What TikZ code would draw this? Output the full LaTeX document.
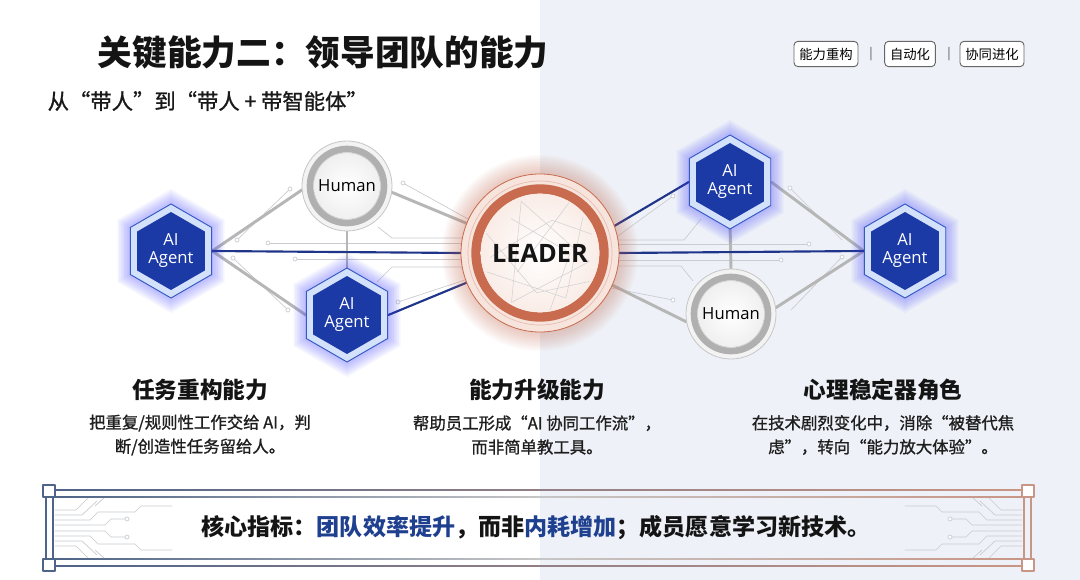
\documentclass[tikz,border=0pt]{standalone}
\usepackage{fontspec}
\usetikzlibrary{calc}
\newfontfamily\cjk{Noto Sans CJK SC}
\newfontfamily\cjkd[FakeBold=1.1]{Noto Sans CJK SC}
\newfontfamily\lat{Open Sans}
\definecolor{bgR}{HTML}{EEF2F8}
\definecolor{hexdark}{HTML}{1C3AA6}
\definecolor{hexlight}{HTML}{D3E1FA}
\definecolor{hexedge}{HTML}{3558C2}
\definecolor{bluel}{HTML}{1F358A}
\definecolor{greyl}{HTML}{B6B6B6}
\definecolor{trace}{HTML}{C9CBD0}
\definecolor{ringor}{HTML}{C86B4E}
\definecolor{ringpale}{HTML}{F7E4DC}
\definecolor{frameL}{HTML}{4E6488}
\definecolor{frameR}{HTML}{C99685}
\definecolor{kpi}{HTML}{1F3F8F}
\newcommand\hexvis[2]{%
  \foreach \r in {48,50,...,62}{\fill[blue!75, opacity=0.05, shift={(#1,#2)}] (90:\r) -- (150:\r) -- (210:\r) -- (270:\r) -- (330:\r) -- (30:\r) -- cycle;}
  \filldraw[fill=hexlight, draw=hexedge, line width=0.7pt, shift={(#1,#2)}] (90:47) -- (150:47) -- (210:47) -- (270:47) -- (330:47) -- (30:47) -- cycle;
  \fill[hexdark, shift={(#1,#2)}] (90:39) -- (150:39) -- (210:39) -- (270:39) -- (330:39) -- (30:39) -- cycle;
  \node[font=\lat\fontsize{12.5}{13.5}\selectfont, text=white, align=center] at (#1,#2) {AI\\Agent};
}
\newcommand\humanvis[2]{%
  \shade[inner color=white, outer color=gray!10, draw=gray!45, line width=0.6pt] (#1,#2) circle[radius=45];
  \draw[gray!62, line width=5pt] (#1,#2) circle[radius=37];
  \draw[gray!35, line width=0.8pt] (#1,#2) circle[radius=33.2];
  \shade[inner color=white, outer color=gray!12] (#1,#2) circle[radius=32.8];
  \node[font=\lat\fontsize{12.5}{14}\selectfont, text=black] at (#1,#2) {Human};
}
\begin{document}
\begin{tikzpicture}[x=0.75pt,y=-0.75pt, line join=round, line cap=round,
  trace/.style={draw=trace, line width=0.5pt},
  tdot/.style={draw=trace, fill=white, line width=0.5pt},
  greyc/.style={draw=greyl, line width=2.2pt},
  bluec/.style={draw=bluel, line width=1.6pt},
  anchornode/.style={circle, inner sep=0pt, minimum size=#1},
  tagbox/.style={draw=black!60, rounded corners=3pt, line width=0.7pt, fill=white, font=\cjk\fontsize{10}{12}\selectfont, inner xsep=4pt, inner ysep=3pt, minimum height=19pt},
  heading/.style={font=\cjk\bfseries\fontsize{17}{20}\selectfont, text=black!92},
  desc/.style={font=\cjkd\fontsize{12.3}{18}\selectfont, text=black!88, align=center}]
% background
\fill[white] (0,0) rectangle (1080,580);
\fill[bgR] (540,0) rectangle (1080,580);
\useasboundingbox (0,0) rectangle (1080,580);

% anchor nodes
\node[anchornode=61.5pt] (A1) at (171,251) {};
\node[anchornode=67.5pt] (H1) at (347,186) {};
\node[anchornode=61.5pt] (A2) at (347,315) {};
\node[anchornode=118.5pt] (L) at (540,253) {};
\node[anchornode=61.5pt] (A3) at (730,182) {};
\node[anchornode=67.5pt] (H2) at (731,314) {};
\node[anchornode=61.5pt] (A4) at (905,251) {};

% circuit traces (left)
\draw[trace] (237,240) -- (290,189);
\draw[trace] (233,258) -- (288,310);
\draw[trace] (268,243) -- (463,243);
\draw[trace] (295,259) -- (463,259);
\draw[trace] (378,227) -- (392,238) -- (463,238);
\draw[trace] (377,282) -- (392,267) -- (463,267);
\draw[trace] (403,183) -- (468,219);
\draw[trace] (398,302) -- (468,279);
\foreach \p in {(237,240),(290,189),(233,258),(288,310),(268,243),(295,259),(403,183),(398,302)} \filldraw[tdot] \p circle[radius=2];
% circuit traces (right)
\draw[trace] (615,238) -- (673,196);
\draw[trace] (790,188) -- (842,240);
\draw[trace] (615,244) -- (809,244);
\draw[trace] (615,260) -- (781,260);
\draw[trace] (842,257) -- (791,310);
\draw[trace] (701,219) -- (684,240) -- (615,240);
\draw[trace] (693,281) -- (681,266) -- (615,266);
\draw[trace] (673,300) -- (611,288);
\foreach \p in {(673,196),(790,188),(809,244),(781,260),(842,257),(673,300)} \filldraw[tdot] \p circle[radius=2];

% connectors
\draw[greyc] (A1.east) -- (H1.185);
\draw[greyc] (A1.east) -- (A2.west);
\draw[greyc] (H1.-8) -- (L.158);
\draw[greyc] (H1.south) -- (A2.north);
\draw[greyc] (L.-24) -- (H2.190);
\draw[greyc] (A3.south) -- (H2.north);
\draw[greyc] (A3.east) -- (A4.west);
\draw[greyc] (H2.8) -- (A4.west);
\draw[bluec] (A1.east) -- (L.west);
\draw[bluec] (A2.east) -- (L.202);
\draw[bluec] (L.20) -- (A3.west);
\draw[bluec] (L.east) -- (A4.west);

% humans
\humanvis{347}{186}
\humanvis{731}{314}

% leader
\foreach \r in {80,82,...,98}{\fill[ringor, opacity=0.04] (L.center) circle[radius=\r];}
\filldraw[fill=ringpale, draw=ringor, line width=0.6pt] (L.center) circle[radius=79];
\draw[ringor!45, line width=0.5pt] (L.center) circle[radius=72];
\draw[ringor, line width=7pt] (L.center) circle[radius=64];
\shade[inner color=white, outer color=ringpale!70] (L.center) circle[radius=59.3];
\begin{scope}
\clip (L.center) circle[radius=59];
\draw[gray!35, line width=0.4pt, shift={(540,253)}]
  (120:57) -- (10:50) -- (250:55) -- cycle
  (160:56) -- (60:52) -- (320:56)
  (200:57) -- (95:40) -- (30:57)
  (140:30) -- (-60:58) (230:45) -- (0:30) -- (80:58)
  (175:50) -- (290:35) -- (340:55);
\end{scope}
\node[font=\lat\bfseries\fontsize{19}{22}\selectfont, text=black!92] at (L.center) {LEADER};

% agents
\hexvis{171}{251}
\hexvis{347}{315}
\hexvis{730}{182}
\hexvis{905}{251}

% title
\node[anchor=west, font=\cjk\bfseries\fontsize{26}{30}\selectfont, text=black!92] (title) at (93,53) {关键能力二：领导团队的能力};
\node[anchor=west, font=\cjkd\fontsize{16}{20}\selectfont, text=black!90] (sub) at (43,101) {从“带人”到“带人 + 带智能体”};

% tags
\node[tagbox] (T1) at (826,54) {能力重构};
\node[font=\lat\fontsize{10}{12}\selectfont, text=black!60] (S1) at (871,54) {|};
\node[tagbox] (T2) at (910,54) {自动化};
\node[font=\lat\fontsize{10}{12}\selectfont, text=black!60] (S2) at (949,54) {|};
\node[tagbox] (T3) at (992,54) {协同进化};

% columns
\node[heading] (h1) at (200,390) {任务重构能力};
\node[heading] (h2) at (537,390) {能力升级能力};
\node[heading] (h3) at (883,390) {心理稳定器角色};
\node[desc] (d1) at (200,435) {把重复/规则性工作交给 AI，判\\断/创造性任务留给人。};
\node[desc] (d2) at (537,435) {帮助员工形成“AI 协同工作流”，\\而非简单教工具。};
\node[desc] (d3) at (883,435) {在技术剧烈变化中，消除“被替代焦\\虑”，转向“能力放大体验”。};

% bottom frame
\shade[left color=frameL, right color=frameR, middle color=frameL!45!frameR] (55,489.4) rectangle (1022,490.8);
\shade[left color=frameL, right color=frameR, middle color=gray!45] (55,496.2) rectangle (1022,497.4);
\shade[left color=frameL, right color=frameR, middle color=gray!45] (55,558.6) rectangle (1022,559.8);
\shade[left color=frameL, right color=frameR, middle color=frameL!45!frameR] (55,565.2) rectangle (1022,566.6);
\begin{scope}
\foreach \s/\c in {1/frameL, -1/frameR}{
\begin{scope}[shift={({\s==1 ? 0 : 1077},0)}, xscale=\s]
\draw[trace] (55,510) -- (76,510) -- (88,498);
\draw[trace] (55,515) -- (82,515) -- (97,501);
\draw[trace] (55,520) -- (90,520) -- (98,512) -- (135,512) -- (141,506) -- (172,506);
\draw[trace] (55,525) -- (105,525) -- (111,519) -- (125,519);
\draw[trace] (95,506) -- (104,498);
\draw[trace] (55,546) -- (76,546) -- (88,558);
\draw[trace] (55,541) -- (82,541) -- (97,555);
\draw[trace] (55,536) -- (90,536) -- (98,544) -- (135,544) -- (141,550) -- (172,550);
\draw[trace] (55,531) -- (105,531) -- (111,537) -- (125,537);
\draw[trace] (95,550) -- (104,558);
\filldraw[tdot] (127,519) circle[radius=2];
\filldraw[tdot] (127,537) circle[radius=2];
\draw[\c, line width=0.8pt] (46,497) -- (46,559) (53,497) -- (53,559);
\filldraw[draw=\c, fill=white, line width=0.8pt] (43,485) rectangle (55,497);
\filldraw[draw=\c, fill=white, line width=0.8pt] (43,559) rectangle (55,571);
\end{scope}}
\end{scope}
\node[font=\cjk\bfseries\fontsize{17.3}{22}\selectfont, text=black!92] (kpi) at (536,528) {核心指标：\textcolor{kpi}{团队效率提升}，而非\textcolor{kpi}{内耗增加}；成员愿意学习新技术。};
\end{tikzpicture}
\end{document}
